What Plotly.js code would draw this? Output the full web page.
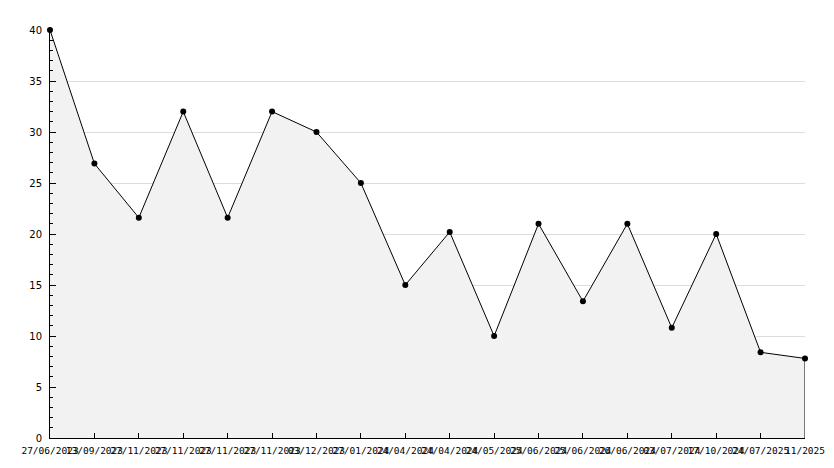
<!DOCTYPE html>
<html>
<head>
<meta charset="utf-8">
<script src="https://cdn.plot.ly/plotly-3.0.1.min.js"></script>
<style>html,body{margin:0;padding:0;background:#fff}#chart{width:834px;height:468px}</style>
</head>
<body>
<div id="chart"></div>
<script>
const dateLabels = ["27/06/2023","13/09/2023","27/11/2023","27/11/2023","27/11/2023","27/11/2023","03/12/2023","27/01/2024","24/04/2024","24/04/2024","24/05/2024","25/06/2024","25/06/2024","26/06/2024","03/07/2024","17/10/2024","24/07/2025","11/2025"];
const values = [40, 26.9, 21.6, 32, 21.6, 32, 30, 25, 15, 20.2, 10, 21, 13.4, 21, 10.8, 20, 8.4, 7.8];
const yTicks = [0, 5, 10, 15, 20, 25, 30, 35, 40];

const idx = dateLabels.map((_, i) => i);
const last = idx.length - 1;

const font = {family: "DejaVu Sans Mono, monospace", size: 9.5, color: "#000"};

const traces = [
  {
    x: idx, y: values, type: "scatter", mode: "lines+markers",
    fill: "tozeroy", fillcolor: "#f2f2f2", cliponaxis: false,
    line: {color: "#000", width: 1},
    marker: {color: "#000", size: 6, symbol: "circle"},
    hoverinfo: "x+y"
  },
  {
    x: [idx[last], idx[last]], y: [values[last], 0], type: "scatter", mode: "lines",
    line: {color: "#000", width: 1}, hoverinfo: "skip"
  }
];

const layout = {
  width: 834, height: 468,
  margin: {l: 50, r: 29, t: 30, b: 30},
  paper_bgcolor: "#fff", plot_bgcolor: "#fff",
  showlegend: false,
  font: font,
  xaxis: {
    range: [0, last], tickmode: "array", tickvals: idx, ticktext: dateLabels,
    tickangle: 0, ticks: "inside", ticklen: 5, tickcolor: "#000",
    ticklabelstandoff: 4,
    showline: true, linecolor: "#000", linewidth: 1, showgrid: false,
    zeroline: false, tickfont: font, fixedrange: true
  },
  yaxis: {
    range: [0, 40], tickmode: "array", tickvals: yTicks, ticktext: yTicks.map(String),
    ticks: "inside", ticklen: 6, tickcolor: "#000",
    ticklabelstandoff: 5,
    minor: {dtick: 1, ticks: "inside", ticklen: 3, tickcolor: "#000", showgrid: false},
    showline: true, linecolor: "#000", linewidth: 1,
    showgrid: true, gridcolor: "#dcdcdc", gridwidth: 1,
    zeroline: false, tickfont: {family: "DejaVu Sans, sans-serif", size: 10, color: "#000"}, fixedrange: true
  }
};

Plotly.newPlot("chart", traces, layout, {displayModeBar: false, staticPlot: true});
</script>
</body>
</html>
